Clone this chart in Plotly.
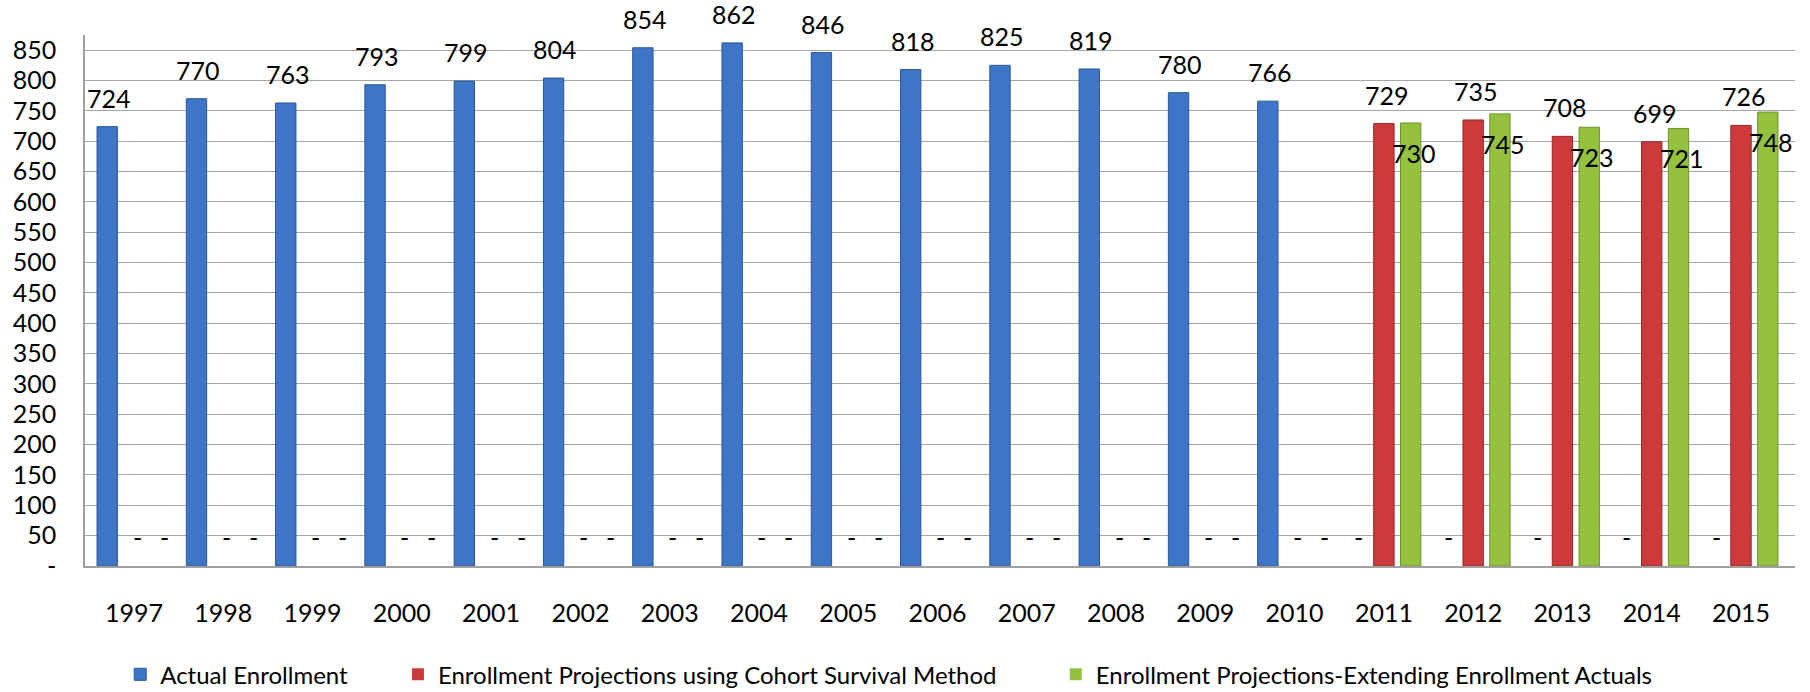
import plotly.graph_objects as go

years = [str(y) for y in range(1997, 2016)]
actual = [724, 770, 763, 793, 799, 804, 854, 862, 846, 818, 825, 819, 780, 766, 0, 0, 0, 0, 0]
cohort = [0] * 14 + [729, 735, 708, 699, 726]
extending = [0] * 14 + [730, 745, 723, 721, 748]
y_ticks = list(range(0, 851, 50))
y_tick_text = ["-" if v == 0 else str(v) for v in y_ticks]

names = ["Actual Enrollment",
         "Enrollment Projections using Cohort Survival Method",
         "Enrollment Projections-Extending Enrollment Actuals"]
colors = ["#3e75c6", "#cc3a3b", "#94c23f"]
edges = ["#2a579c", "#962628", "#6e9230"]
series = [actual, cohort, extending]

FONT = "Lato, 'Open Sans', sans-serif"
FS = 25

fig = go.Figure()
legends = ["legend", "legend2", "legend3"]
for i, (vals, name) in enumerate(zip(series, names)):
    fig.add_trace(go.Bar(
        x=years, y=vals, name=name,
        marker=dict(color=colors[i],
                    line=dict(color=edges[i], width=[1 if v else 0 for v in vals])),
        legend=legends[i],
    ))

# data labels (x given as category index)
xshifts = [-25, 3, 30]
annotations = []
for i, vals in enumerate(series):
    for k, v in enumerate(vals):
        txt = "-" if v == 0 else str(v)
        if i == 2 and v != 0:
            annotations.append(dict(x=k, y=v, xref="x", yref="y", text=txt, showarrow=False,
                                    xshift=xshifts[i], yshift=-13, yanchor="top",
                                    font=dict(size=FS, color="#000", family=FONT)))
        else:
            annotations.append(dict(x=k, y=v, xref="x", yref="y", text=txt, showarrow=False,
                                    xshift=xshifts[i], yshift=12,
                                    yanchor="bottom",
                                    font=dict(size=FS, color="#000", family=FONT)))

leg_common = dict(orientation="h", yanchor="middle", xanchor="left",
                  yref="container", y=0.025,
                  font=dict(size=24, family=FONT, color="#000"),
                  bgcolor="rgba(0,0,0,0)")

fig.update_layout(
    width=1810, height=692,
    margin=dict(l=85, r=15, t=35, b=126, autoexpand=False),
    paper_bgcolor="white", plot_bgcolor="white",
    barmode="group", bargap=0.1, bargroupgap=0.24,
    font=dict(family=FONT, size=FS, color="#000"),
    annotations=annotations,
    showlegend=True,
    legend=dict(x=0.0206, **leg_common),
    legend2=dict(x=0.183, **leg_common),
    legend3=dict(x=0.5677, **leg_common),
    xaxis=dict(type="category", showline=True, linecolor="#a0a0a0", linewidth=1.5,
               showgrid=False, ticks="", ticklabelstandoff=24, automargin=False,
               tickfont=dict(size=FS, family=FONT, color="#000")),
    yaxis=dict(range=[0, 875], tickvals=y_ticks, ticktext=y_tick_text,
               showline=True, linecolor="#a0a0a0", linewidth=1.5,
               showgrid=True, gridcolor="#a6a6a6", gridwidth=1.3,
               zeroline=False, ticks="", ticklabelstandoff=22, automargin=False,
               tickfont=dict(size=FS, family=FONT, color="#000")),
)

fig.write_html("out.html", config={"displayModeBar": False},
               post_script="document.body.style.margin='0px';document.body.style.overflow='hidden';")
